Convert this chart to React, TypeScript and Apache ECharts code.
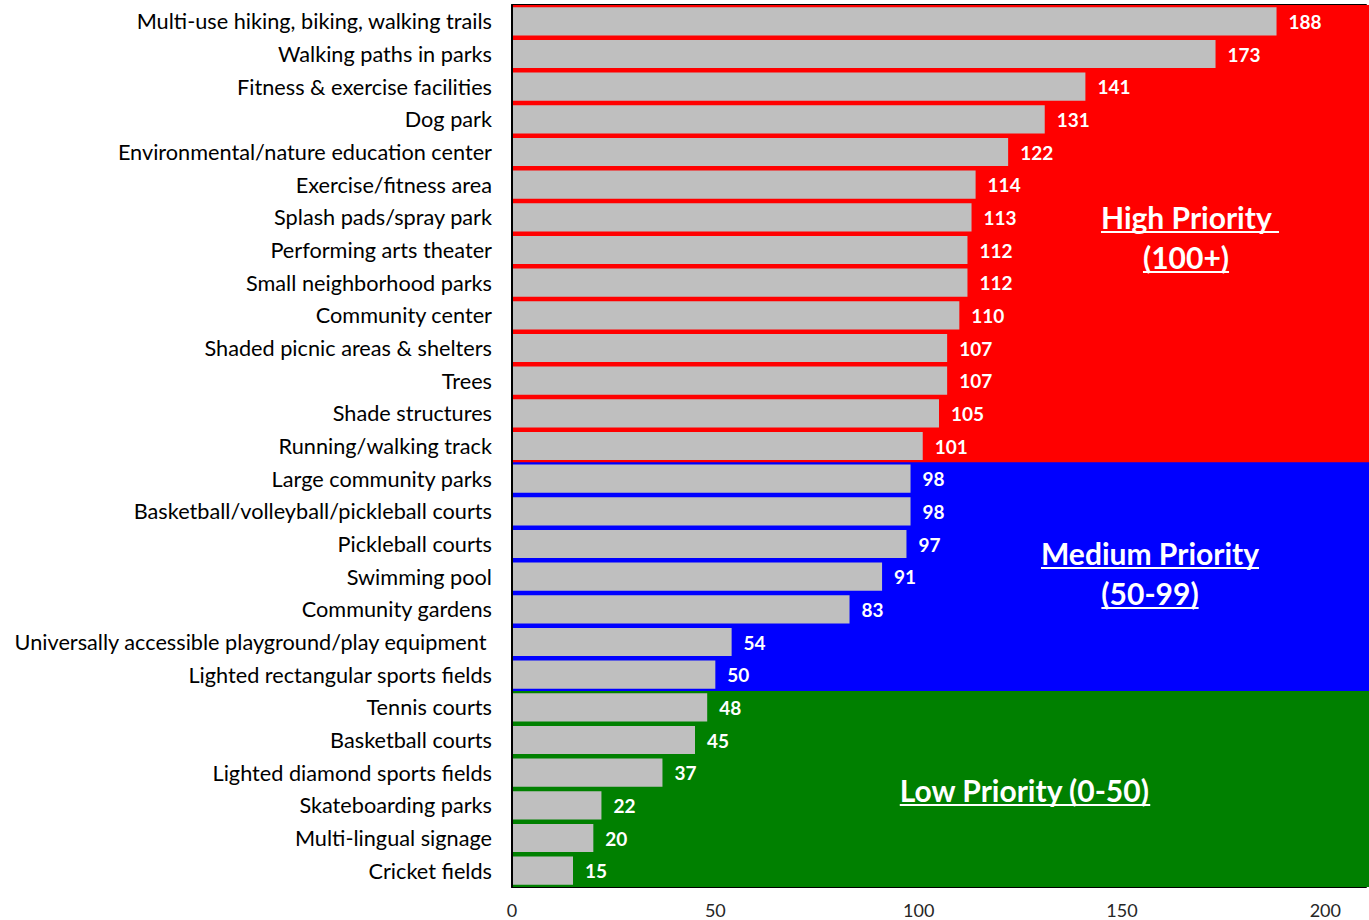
import React, { useEffect, useRef } from "react";
import * as echarts from "echarts";

const categories = [
  "Multi-use hiking, biking, walking trails",
  "Walking paths in parks",
  "Fitness & exercise facilities",
  "Dog park",
  "Environmental/nature education center",
  "Exercise/fitness area",
  "Splash pads/spray park",
  "Performing arts theater",
  "Small neighborhood parks",
  "Community center",
  "Shaded picnic areas & shelters",
  "Trees",
  "Shade structures",
  "Running/walking track",
  "Large community parks",
  "Basketball/volleyball/pickleball courts",
  "Pickleball courts",
  "Swimming pool",
  "Community gardens",
  "Universally accessible playground/play equipment ",
  "Lighted rectangular sports fields",
  "Tennis courts",
  "Basketball courts",
  "Lighted diamond sports fields",
  "Skateboarding parks",
  "Multi-lingual signage",
  "Cricket fields",
];

const values = [
  188, 173, 141, 131, 122, 114, 113, 112, 112, 110, 107, 107, 105, 101, 98, 98,
  97, 91, 83, 54, 50, 48, 45, 37, 22, 20, 15,
];

const axisMax = 210;
const tickStep = 50;

const FONT = "Lato";

function bandColor(v: number) {
  if (v >= 100) return "#ff0000";
  if (v >= 50) return "#0000ff";
  return "#008000";
}

function measure(text: string, font: string) {
  const c = document.createElement("canvas").getContext("2d")!;
  c.font = font;
  return c.measureText(text).width;
}

export default function App() {
  const ref = useRef<HTMLDivElement>(null);
  useEffect(() => {
    if (!ref.current) return;
    const chart = echarts.init(ref.current, undefined, { renderer: "svg" });
    const annFont = `bold 30px ${FONT}`;
    const annotations = [
      { text: "High Priority ", cx: 1190, y: 217 },
      { text: "(100+)", cx: 1186, y: 257 },
      { text: "Medium Priority", cx: 1150, y: 553 },
      { text: "(50-99)", cx: 1150, y: 593 },
      { text: "Low Priority (0-50)", cx: 1025, y: 790 },
    ];
    const graphics: any[] = [];
    annotations.forEach((a) => {
      const w = measure(a.text, annFont);
      graphics.push({
        type: "text",
        x: a.cx - w / 2,
        y: a.y,
        style: {
          text: a.text,
          fill: "#ffffff",
          font: annFont,
          textAlign: "left",
          textVerticalAlign: "middle",
        },
        z: 100,
      });
      graphics.push({
        type: "line",
        shape: { x1: a.cx - w / 2, y1: a.y + 15, x2: a.cx + w / 2, y2: a.y + 15 },
        style: { stroke: "#ffffff", lineWidth: 2 },
        z: 100,
      });
    });

    chart.setOption({
      animation: false,
      grid: { left: 512, right: 0, top: 5, bottom: 33, containLabel: false },
      xAxis: [
        {
          type: "value",
          min: 0,
          max: axisMax,
          interval: tickStep,
          position: "bottom",
          splitLine: { show: false },
          axisTick: { show: false },
          axisLine: { show: true, lineStyle: { color: "#000", width: 2 } },
          axisLabel: {
            color: "#262626",
            fontSize: 18,
            fontFamily: FONT,
            margin: 14,
            formatter: (v: number) => (v % tickStep === 0 ? String(v) : ""),
          },
        },
        {
          type: "value",
          min: 0,
          max: axisMax,
          position: "top",
          splitLine: { show: false },
          axisTick: { show: false },
          axisLabel: { show: false },
          axisLine: { show: true, lineStyle: { color: "#000", width: 2 } },
        },
      ],
      yAxis: [
        {
          type: "category",
          data: categories,
          inverse: true,
          axisTick: { show: false },
          axisLine: { show: true, lineStyle: { color: "#000", width: 2 } },
          axisLabel: {
            color: "#000",
            fontSize: 21.7,
            fontFamily: FONT,
            margin: 20,
          },
          z: 10,
        },
      ],
      series: [
        {
          type: "custom",
          xAxisIndex: 0,
          yAxisIndex: 0,
          silent: true,
          z: 1,
          clip: false,
          data: values.map((v, i) => [0, i, v]),
          encode: { x: 0, y: 1 },
          renderItem: (params: any, api: any) => {
            const idx = api.value(1);
            const v = api.value(2);
            const c = api.coord([0, idx]);
            const band = api.size([0, 1])[1];
            const cs = params.coordSys;
            const top = c[1] - band / 2;
            const isLast = idx === values.length - 1;
            return {
              type: "rect",
              shape: {
                x: cs.x,
                y: top,
                width: cs.width + 10,
                height: band + (isLast ? 0 : 1.5),
              },
              style: { fill: bandColor(v) },
            };
          },
        },
        {
          type: "bar",
          xAxisIndex: 0,
          yAxisIndex: 0,
          barCategoryGap: "14%",
          z: 5,
          itemStyle: { color: "#bfbfbf" },
          label: {
            show: true,
            position: "right",
            distance: 12,
            color: "#ffffff",
            fontWeight: "bold",
            fontSize: 19,
            fontFamily: FONT,
          },
          data: values,
        },
      ],
      graphic: graphics,
    });
    return () => chart.dispose();
  }, []);
  return (
    <div
      ref={ref}
      style={{ position: "fixed", left: 0, top: 0, width: 1369, height: 920, background: "#fff" }}
    />
  );
}
